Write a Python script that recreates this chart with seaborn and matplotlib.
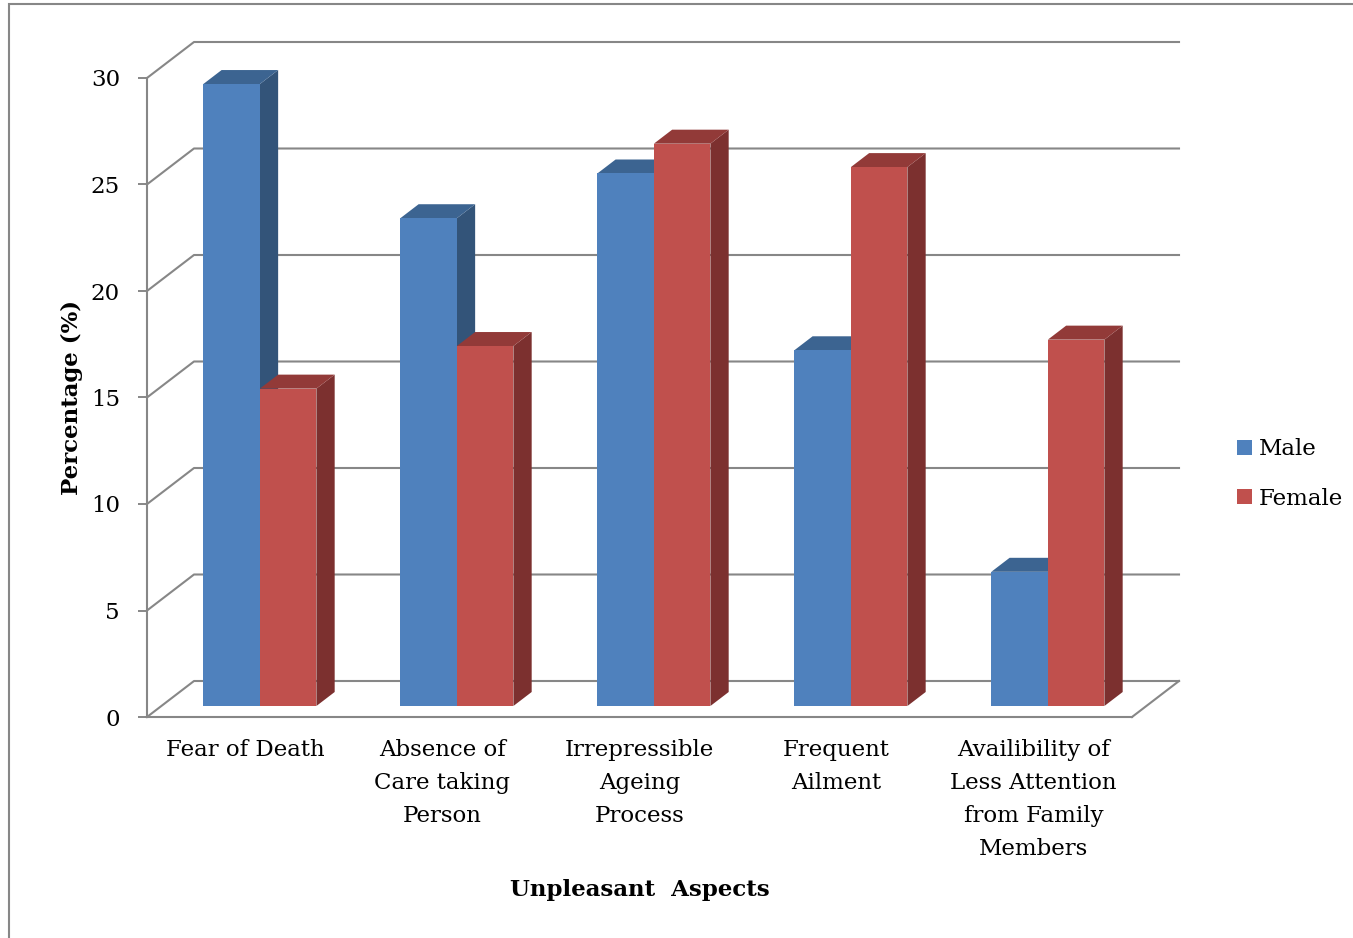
import numpy as np
import pandas as pd
import seaborn as sns
import matplotlib.pyplot as plt
from matplotlib.patches import Polygon, Rectangle, Patch
from matplotlib.lines import Line2D
from matplotlib.transforms import ScaledTranslation, IdentityTransform

# Survey data: share of respondents naming each unpleasant aspect of old age
aspects = [
    "Fear of Death",
    "Absence of\nCare taking\nPerson",
    "Irrepressible\nAgeing\nProcess",
    "Frequent\nAilment",
    "Availibility of\nLess Attention\nfrom Family\nMembers",
]
genders = ["Male", "Female"]
male_pct = [29.2, 22.9, 25.0, 16.7, 6.3]
female_pct = [14.9, 16.9, 26.4, 25.3, 17.2]
y_ticks = [0, 5, 10, 15, 20, 25, 30]

front_colors = {"Male": "#4F81BD", "Female": "#C0504D"}
side_colors = {"Male": "#335479", "Female": "#7C302F"}
top_colors = {"Male": "#3C6491", "Female": "#923A38"}
GRID = "#878787"
FS = 16.5

df = pd.DataFrame({
    "Aspect": aspects * 2,
    "Gender": ["Male"] * len(aspects) + ["Female"] * len(aspects),
    "Percentage": male_pct + female_pct,
})

sns.set_theme(style="white")
plt.rcParams["font.family"] = ["DejaVu Serif"]
plt.rcParams["text.color"] = "black"

DPI = 100
W, H = 1353, 938
fig = plt.figure(figsize=(W / DPI, H / DPI), dpi=DPI)
ax = fig.add_axes([147 / W, 1 - 717 / H, 985 / W, 639 / H])
ax.patch.set_alpha(0)

sns.barplot(data=df, x="Aspect", y="Percentage", hue="Gender",
            order=aspects, hue_order=genders, palette=front_colors,
            width=0.574, saturation=1, errorbar=None, legend=False, ax=ax)
ax.set_xlim(-0.5, len(aspects) - 0.5)
ax.set_ylim(y_ticks[0], y_ticks[-1])

# oblique depth of the floor / walls, in pixels (right, up)
DEPTH = np.array([47.0, 36.0])
BAR_FRONT, BAR_BACK = 11 / 36, 25 / 36


def to_px(x, y, d):
    return ax.transData.transform((x, y)) + d * DEPTH


def add_line(points, z=0.5):
    pts = np.array(points)
    ax.add_artist(Line2D(pts[:, 0], pts[:, 1], transform=IdentityTransform(),
                         color=GRID, lw=1.5, clip_on=False, zorder=z,
                         solid_capstyle="projecting"))


x_lo, x_hi = ax.get_xlim()
# side-wall and back-wall gridlines
for v in y_ticks:
    add_line([to_px(x_lo, v, 0), to_px(x_lo, v, 1), to_px(x_hi, v, 1)])
# right edge of the floor
add_line([to_px(x_hi, 0, 0), to_px(x_hi, 0, 1)])

# turn the flat bars into 3-D columns
front_shift = ScaledTranslation(*(BAR_FRONT * DEPTH / DPI), fig.dpi_scale_trans)
for p in list(ax.patches):
    x0, w, h = p.get_x(), p.get_width(), p.get_height()
    xc = x0 + w / 2
    cat = int(round(xc))
    g = "Male" if xc < cat else "Female"
    z = 3 + cat * 0.1 + genders.index(g) * 0.04
    p.set_transform(ax.transData + front_shift)
    p.set_linewidth(0)
    p.set_zorder(z + 0.02)
    p.set_clip_on(False)
    side = [to_px(x0 + w, 0, BAR_FRONT), to_px(x0 + w, 0, BAR_BACK),
            to_px(x0 + w, h, BAR_BACK), to_px(x0 + w, h, BAR_FRONT)]
    top = [to_px(x0, h, BAR_FRONT), to_px(x0 + w, h, BAR_FRONT),
           to_px(x0 + w, h, BAR_BACK), to_px(x0, h, BAR_BACK)]
    ax.add_artist(Polygon(side, closed=True, transform=IdentityTransform(),
                          facecolor=side_colors[g], edgecolor="none",
                          clip_on=False, zorder=z))
    ax.add_artist(Polygon(top, closed=True, transform=IdentityTransform(),
                          facecolor=top_colors[g], edgecolor="none",
                          clip_on=False, zorder=z + 0.01))

# axes styling
for s in ("top", "right"):
    ax.spines[s].set_visible(False)
for s in ("left", "bottom"):
    ax.spines[s].set_color(GRID)
    ax.spines[s].set_linewidth(1.5)
ax.set_yticks(y_ticks)
ax.tick_params(axis="y", length=6.5, width=1.4, color=GRID, pad=13,
               labelsize=FS, labelcolor="black", left=True)
ax.set_xticks(range(len(aspects)))
ax.set_xticklabels(aspects, linespacing=1.65, multialignment="center")
ax.tick_params(axis="x", length=0, pad=16, labelsize=FS, labelcolor="black")

ax.set_ylabel("Percentage (%)", fontsize=FS, fontweight="bold", color="black")
ax.yaxis.set_label_coords(-75 / 985, 0.5)
ax.yaxis.label.set_va("center")
ax.set_xlabel("Unpleasant  Aspects", fontsize=FS, fontweight="bold", color="black")
ax.xaxis.set_label_coords(0.5, -(890 - 717) / 639)
ax.xaxis.label.set_va("center")

handles = [Patch(facecolor=front_colors[g], edgecolor="none") for g in genders]
ax.legend(handles, genders, loc="center left", frameon=False,
          bbox_to_anchor=(1237 / W, 1 - 474 / H), bbox_transform=fig.transFigure,
          fontsize=FS, handlelength=0.65, handleheight=0.65, handletextpad=0.3,
          labelspacing=1.2, borderpad=0, borderaxespad=0)

# chart border
fig.add_artist(Rectangle((9, -20), W + 40, H - 4 + 20, transform=IdentityTransform(),
                         facecolor="none", edgecolor=GRID, lw=1.5))

fig.savefig("out.png", dpi=DPI)
